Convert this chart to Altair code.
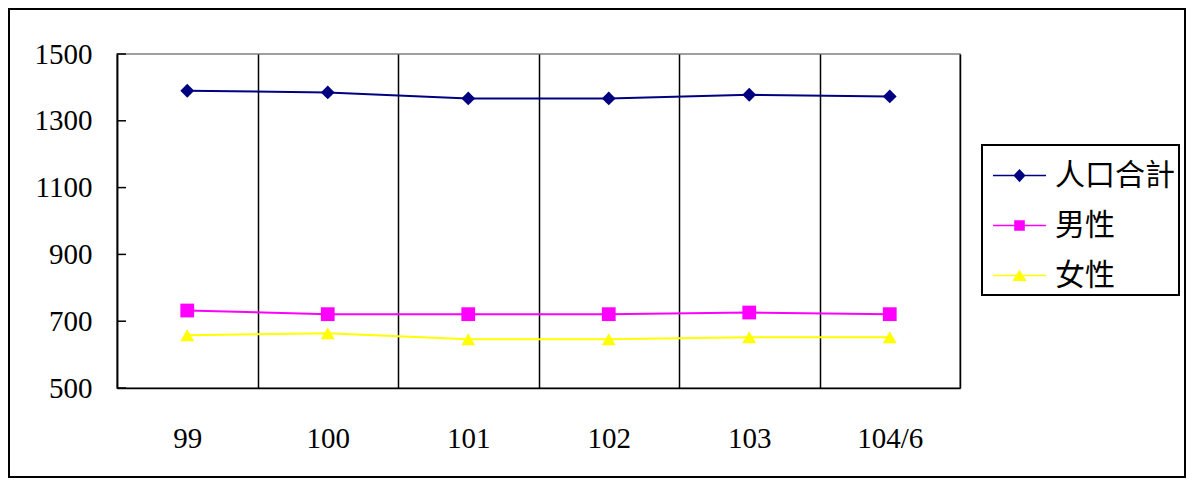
import altair as alt
import pandas as pd

# ---- data ----
categories = ["99", "100", "101", "102", "103", "104/6"]
series_names = ["人口合計", "男性", "女性"]
total_values = [1390, 1385, 1367, 1367, 1378, 1373]
male_values = [732, 721, 721, 721, 726, 721]
female_values = [658, 664, 646, 646, 652, 652]
y_ticks = [500, 700, 900, 1100, 1300, 1500]

# ---- styles ----
colors = ["#000080", "#FF00FF", "#FFFF00"]
shapes = ["diamond", "square", "triangle-up"]
legend_paths = [
    "M-1,-0.03H1V0.03H-1Z M0,-0.25L0.23,0L0,0.25L-0.23,0Z",
    "M-1,-0.03H1V0.03H-1Z M-0.2,-0.2H0.2V0.2H-0.2Z",
    "M-1,-0.03H1V0.03H-1Z M0,-0.22L0.27,0.21H-0.27Z",
]
FONT = "Liberation Serif, Times New Roman, Noto Sans CJK TC"

rows = []
for name, vals in zip(series_names, [total_values, male_values, female_values]):
    for c, v in zip(categories, vals):
        rows.append({"year": c, "series": name, "value": v})
df = pd.DataFrame(rows)
ticks_df = pd.DataFrame({"tick": y_ticks})

W, H = 843, 334
PL, PT = 109, 46
TOTAL_W, TOTAL_H = 1178, 470

xscale = alt.Scale(type="band", domain=categories, paddingInner=0, paddingOuter=0)
yscale = alt.Scale(domain=[500, 1500], nice=False, zero=False)

xaxis = alt.Axis(
    title=None, grid=True, gridColor="black", gridWidth=1.5, gridOpacity=1,
    tickBand="extent", ticks=False, domainColor="black", domainWidth=1.5,
    labelAngle=0, labelFont=FONT, labelFontSize=29, labelColor="black",
    labelPadding=50, labelBaseline="middle",
)
yaxis = alt.Axis(
    title=None, values=y_ticks, format="d", grid=False, ticks=False, domainColor="black",
    domainWidth=1.5, labelFont=FONT, labelFontSize=29, labelColor="black",
    labelPadding=25,
)

X = alt.X("year:N", sort=categories, scale=xscale, axis=xaxis, bandPosition=0.5)
Y = alt.Y("value:Q", scale=yscale, axis=yaxis)

color_plain = alt.Color("series:N", scale=alt.Scale(domain=series_names, range=colors), legend=None)

lines = alt.Chart(df).mark_line(strokeWidth=2).encode(x=X, y=Y, color=color_plain, detail="series:N")

points = alt.Chart(df).mark_point(filled=True, opacity=1, size=190, strokeWidth=0).encode(
    x=X, y=Y, color=color_plain,
    shape=alt.Shape("series:N", scale=alt.Scale(domain=series_names, range=shapes), legend=None),
)

leg = alt.Legend(
    orient="none", legendX=865, legendY=91, title=None,
    symbolSize=2809, symbolStrokeWidth=0, symbolOpacity=1, symbolOffset=7,
    labelFont=FONT, labelFontSize=30, labelColor="black", labelOffset=9,
    padding=4, rowPadding=8, strokeColor="black", fillColor="white",
)
legend_layer = alt.Chart(df).mark_point(filled=True, opacity=1, size=2809, strokeWidth=0, clip=True).encode(
    x=alt.value(0), y=alt.value(5000),
    color=alt.Color("series:N", scale=alt.Scale(domain=series_names, range=colors), legend=leg),
    shape=alt.Shape("series:N", scale=alt.Scale(domain=series_names, range=legend_paths), legend=leg),
)

inner_ticks = alt.Chart(ticks_df).mark_rule(color="black", strokeWidth=1.5).encode(
    y=alt.Y("tick:Q", scale=yscale, axis=yaxis), x=alt.value(0), x2=alt.value(9)
)

border = alt.Chart(pd.DataFrame({"k": [0]})).mark_rect(
    fillOpacity=0, stroke="black", strokeWidth=2
).encode(
    x=alt.value(-PL + 1), x2=alt.value(TOTAL_W - PL - 1),
    y=alt.value(-PT + 1), y2=alt.value(TOTAL_H - PT - 1),
)

chart = alt.layer(border, lines, points, inner_ticks, legend_layer).resolve_scale(
    color="independent", shape="independent"
).properties(
    width=W, height=H, autosize="none",
    padding={"left": PL, "top": PT, "right": TOTAL_W - PL - W, "bottom": TOTAL_H - PT - H},
    background="white",
).configure_view(stroke="#808080", strokeWidth=1.5).configure_legend(strokeWidth=2)

chart.save("out.html", embed_options={"renderer": "svg", "actions": False})
